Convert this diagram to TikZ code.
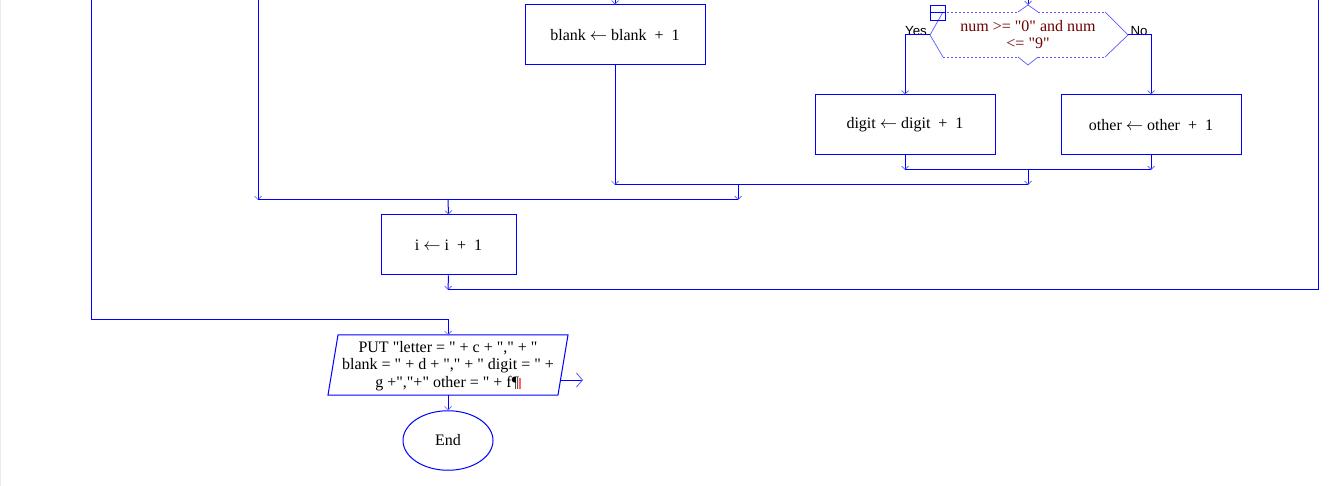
\documentclass[tikz,border=0pt]{standalone}
\usepackage{fontspec}
\setmainfont{Liberation Serif}[Ligatures=TeXOff]
\newfontfamily\lsans{Liberation Sans}
\usetikzlibrary{arrows.meta,shapes.geometric}
\definecolor{fb}{RGB}{0,0,255}
\definecolor{fbl}{RGB}{90,90,255}
\definecolor{dred}{RGB}{110,0,0}
\newcommand{\dn}[1]{\lower1.5pt\hbox{#1}}
\begin{document}
\begin{tikzpicture}[x=1pt,y=-1pt,
  line/.style={draw=fb, line width=1pt},
  arr/.style={line, -{Straight Barb[length=3.5pt,width=7pt,line width=0.7pt,color=fbl]}},
  proc/.style={draw=fb, line width=1pt, minimum width=180pt, minimum height=60pt, inner sep=0pt, font=\fontsize{16}{18}\selectfont},
  txt/.style={inner sep=0pt, align=center, font=\fontsize{16}{17.5}\selectfont},
  lab/.style={inner sep=0pt, font=\lsans\fontsize{13.3}{15}\selectfont}]
\useasboundingbox (0,0) rectangle (1336,486);
\fill[white] (0,0) rectangle (1336,486);
\draw[black!8, line width=1.2pt] (0.6,0) -- (0.6,486);

% process boxes
\node[proc] (blank) at (615,35) {\dn{blank $\leftarrow$ blank \ + \ 1}};
\node[proc] (digit) at (905,125) {\dn{digit $\leftarrow$ digit \ + \ 1}};
\node[proc] (other) at (1151,125) {\dn{other $\leftarrow$ other \ + \ 1}};
\node[proc, minimum width=135pt] (inc) at (448.5,245) {\dn{i $\leftarrow$ i \ + \ 1}};

% decision
\coordinate (dL) at (930,35);
\coordinate (dR) at (1128,35);
\coordinate (dTL) at (943,12);
\coordinate (dTR) at (1105,12);
\coordinate (dBL) at (943,57);
\coordinate (dBR) at (1105,57);
\coordinate (dT) at (1028,5);
\coordinate (dB) at (1028,65);
\draw[fbl, line width=0.7pt] (dTL) -- (dL) -- (dBL);
\draw[fbl, line width=0.7pt] (dTR) -- (dR) -- (dBR);
\draw[fbl, line width=0.7pt, dash pattern=on 2pt off 2pt] (dTL) -- (1018,12) (1038,12) -- (dTR);
\draw[fbl, line width=0.7pt, dash pattern=on 2pt off 2pt] (dBL) -- (1018,57) (1038,57) -- (dBR);
\draw[fbl, line width=0.7pt] (1018,12) -- (dT) -- (1038,12);
\draw[fbl, line width=0.7pt] (1018,57) -- (dB) -- (1038,57);
\node[txt, text=dred] (dec) at (1028,34.5) {num >= "0" and num\\<= "9"};
\node[draw=fb, line width=0.8pt, minimum width=15pt, minimum height=15pt, inner sep=0pt] (icon) at (937.5,12.5) {};
\draw[fb, line width=0.8pt] (icon.west) -- (icon.east);
\node[lab, anchor=south] (yes) at (916,36) {Yes};
\node[lab, anchor=south] (no) at (1139,36) {No};

% input/output
\coordinate (pTL) at (338,335);
\coordinate (pTR) at (568,335);
\coordinate (pBR) at (558,395);
\coordinate (pBL) at (328,395);
\coordinate (pT) at (448,335);
\coordinate (pB) at (448,395);
\draw[line] (pTL) -- (pTR) -- (pBR) -- (pBL) -- cycle;
\node[txt] (put) at (448,366) {PUT "letter = " + c + "," + "\\blank = " + d + "," + " digit = " +\\g +","+" other = " + f¶\textcolor{red!60}{\rule[-2pt]{1.5pt}{11pt}}};
\coordinate (pR) at (560.5,380);
\coordinate (pOut) at (583,380);
\draw[fb, line width=0.8pt, -{Straight Barb[length=6pt,width=14pt,line width=0.8pt,color=fbl]}] (pR) -- (pOut);

\node[draw=fb, line width=1pt, ellipse, minimum width=90pt, minimum height=59.5pt, inner sep=0pt, font=\fontsize{16}{18}\selectfont] (end) at (448,440.5) {\dn{End}};

% connectors
\coordinate (t1) at (91,0);
\coordinate (t2) at (258,0);
\coordinate (t3) at (615,0);
\coordinate (t4) at (1028,0);
\coordinate (t5) at (1318,0);
\coordinate (j1) at (258,200);
\coordinate (j2) at (738,200);
\coordinate (j3) at (615,185);
\coordinate (j4) at (1028,185);
\coordinate (j5) at (905,170);
\coordinate (j6) at (1151,170);
\coordinate (j7) at (448,200);
\coordinate (j8) at (448,290);
\coordinate (j9) at (1318,290);
\coordinate (j10) at (738,185);
\coordinate (j11) at (1028,170);

\draw[arr] (t3) -- (blank.north);
\draw[arr] (t4) -- (dT);
\draw[arr] (dL) -| (digit.north);
\draw[arr] (dR) -| (other.north);
\draw[arr] (digit.south) -- (j5);
\draw[arr] (other.south) -- (j6);
\draw[line] (j5) -- (j6);
\draw[arr] (j11) -- (j4);
\draw[arr] (blank.south) -- (j3);
\draw[line] (j3) -- (j4);
\draw[arr] (j10) -- (j2);
\draw[arr] (t2) -- (j1);
\draw[line] (j1) -- (j2);
\draw[arr] (j7) -- (inc.north);
\draw[arr] (inc.south) -- (j8);
\draw[line] (j8) -- (j9) -- (t5);
\draw[arr] (t1) -- (91,320) -- (448,320) -- (pT);
\draw[arr] (pB) -- (end.north);
\end{tikzpicture}
\end{document}
